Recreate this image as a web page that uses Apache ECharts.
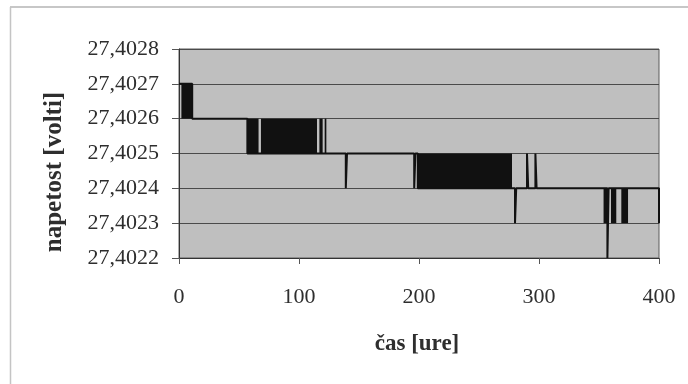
<!DOCTYPE html>
<html>
<head>
<meta charset="utf-8">
<script src="https://cdn.jsdelivr.net/npm/echarts@6/dist/echarts.min.js"></script>
<style>
  html, body { margin: 0; padding: 0; background: #ffffff; }
  #chart { width: 688px; height: 384px; }
</style>
</head>
<body>
<div id="chart"></div>
<script>
// Voltage readings over time: sample-and-hold level changes (hours, volts)
const hours = [0, 11, 57, 139, 140, 196, 197, 199, 280, 281, 290, 291, 297, 298, 357, 358, 400];
const volts = [27.4027, 27.4026, 27.4025, 27.4024, 27.4025, 27.4024, 27.4025, 27.4024,
               27.4023, 27.4024, 27.4025, 27.4024, 27.4025, 27.4024, 27.4022, 27.4024, 27.4023];

// Intervals where the reading toggles rapidly between two adjacent levels
const flickerStart = [2, 56.6, 68.3, 117, 121.4, 198.8, 353.8, 360, 368.6];
const flickerEnd   = [11, 66.3, 115, 119.7, 122.8, 277.5, 358, 364.4, 374.2];
const flickerLow   = [27.4026, 27.4025, 27.4025, 27.4025, 27.4025, 27.4024, 27.4023, 27.4023, 27.4023];
const flickerHigh  = [27.4027, 27.4026, 27.4026, 27.4026, 27.4026, 27.4025, 27.4024, 27.4024, 27.4024];

// Axis ranges and tick steps
const xTicks = [0, 100, 200, 300, 400];
const yTicks = [27.4022, 27.4023, 27.4024, 27.4025, 27.4026, 27.4027, 27.4028];

const xTitle = 'čas [ure]';
const yTitle = 'napetost [volti]';

const serif = '"Liberation Serif", "DejaVu Serif", serif';
const textColor = '#2e2e2e';

const lineData = hours.map((h, i) => [h, volts[i]]);
const flickerData = flickerStart.map((s, i) => [s, flickerEnd[i], flickerLow[i], flickerHigh[i]]);

const chart = echarts.init(document.getElementById('chart'), null, { renderer: 'canvas' });

chart.setOption({
  animation: false,
  backgroundColor: '#ffffff',
  grid: {
    left: 179, top: 49, width: 480, height: 209,
    show: true,
    backgroundColor: '#bfbfbf',
    borderColor: '#5a5a5a',
    borderWidth: 1
  },
  xAxis: {
    type: 'value',
    min: xTicks[0],
    max: xTicks[xTicks.length - 1],
    interval: xTicks[1] - xTicks[0],
    axisLine: { show: true, lineStyle: { color: '#333333', width: 1 } },
    axisTick: { show: true, length: 6, lineStyle: { color: '#555555' } },
    axisLabel: {
      margin: 28,
      fontFamily: serif,
      fontSize: 22,
      color: textColor
    },
    splitLine: { show: false }
  },
  yAxis: {
    type: 'value',
    min: yTicks[0],
    max: yTicks[yTicks.length - 1],
    interval: 0.0001,
    axisLine: { show: true, lineStyle: { color: '#333333', width: 1 } },
    axisTick: { show: true, length: 7, lineStyle: { color: '#555555' } },
    axisLabel: {
      margin: 20,
      fontFamily: serif,
      fontSize: 22,
      color: textColor,
      formatter: v => v.toFixed(4).replace('.', ',')
    },
    splitLine: { show: true, lineStyle: { color: '#4a4a4a', width: 1 } }
  },
  series: [
    {
      type: 'custom',
      name: 'flicker',
      clip: true,
      encode: { x: [0, 1], y: [2, 3] },
      data: flickerData,
      renderItem: (params, api) => {
        const a = api.coord([api.value(0), api.value(3)]);
        const b = api.coord([api.value(1), api.value(2)]);
        return {
          type: 'rect',
          shape: { x: a[0], y: a[1], width: b[0] - a[0], height: b[1] - a[1] },
          style: { fill: '#111111' }
        };
      }
    },
    {
      type: 'line',
      name: 'napetost',
      step: 'end',
      symbol: 'none',
      clip: true,
      data: lineData,
      lineStyle: { color: '#111111', width: 2 }
    }
  ],
  graphic: [
    {
      type: 'line',
      shape: { x1: 10, y1: 7, x2: 688, y2: 7 },
      style: { stroke: '#b4b4b4', lineWidth: 1.5 }
    },
    {
      type: 'line',
      shape: { x1: 10.5, y1: 7, x2: 10.5, y2: 384 },
      style: { stroke: '#c4c4c4', lineWidth: 1.5 }
    },
    {
      type: 'text',
      x: 417, y: 344,
      style: {
        text: xTitle,
        fontFamily: serif,
        fontWeight: 'bold',
        fontSize: 23,
        fill: textColor,
        textAlign: 'center',
        textVerticalAlign: 'middle'
      }
    },
    {
      type: 'text',
      x: 55, y: 172,
      rotation: Math.PI / 2,
      style: {
        text: yTitle,
        fontFamily: serif,
        fontWeight: 'bold',
        fontSize: 25,
        fill: textColor,
        textAlign: 'center',
        textVerticalAlign: 'middle'
      }
    }
  ]
});
</script>
</body>
</html>
